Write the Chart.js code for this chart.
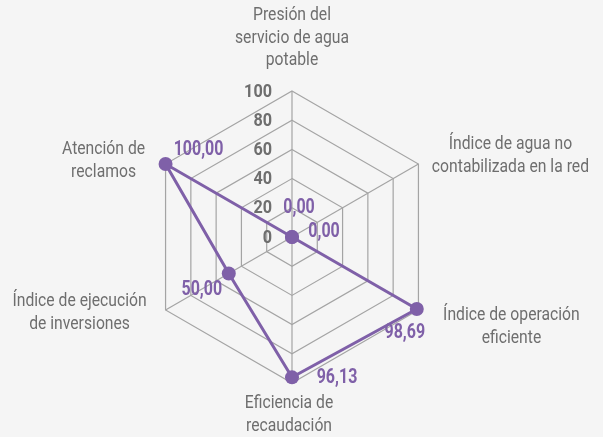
<!DOCTYPE html>
<html>
<head>
<meta charset="utf-8">
<style>
    body { margin: 0; background-color: #f5f5f5; }
    #wrap { position: relative; width: 603px; height: 437px; }
</style>
<script src="https://cdn.jsdelivr.net/npm/chart.js@4.4.1/dist/chart.umd.min.js"></script>
</head>
<body>
<div id="wrap"><canvas id="radar"></canvas></div>
<script type="text/javascript">

    // axes (multi-line labels) and values
    var axisLabels = [
        ["Presión del", "servicio de agua", "potable"],
        ["Índice de agua no", "contabilizada en la red"],
        ["Índice de operación", "eficiente"],
        ["Eficiencia de", "recaudación"],
        ["Índice de ejecución", "de inversiones"],
        ["Atención de", "reclamos"]
    ];
    var values = [0, 0, 98.69, 96.13, 50, 100];
    var tickValues = [0, 20, 40, 60, 80, 100];

    // where each text sits relative to its point (px)
    var valueLabelOffset = [[7, -29], [32, -5], [-12, 24], [45, 1], [-27, 16], [33, -14]];
    var axisLabelOffset = [[0, -53], [92, -8], [93, 17], [-3, 32], [-86, 3], [-62, -3]];

    var purple = '#7f60a8';
    var gray = '#6e6e6e';
    var gridCol = '#a4a4a4';

    function fmt(v) {
        return v.toFixed(2).replace('.', ',');
    }

    // the original uses a condensed face, squeeze Roboto a bit
    function narrowText(ctx, txt, x, y, f) {
        ctx.save();
        ctx.translate(x, y);
        ctx.scale(f, 1);
        ctx.fillText(txt, 0, 0);
        ctx.restore();
    }

    var textPlugin = {
        id: 'texts',
        afterDraw: function(chart) {
            var ctx = chart.ctx;
            var scale = chart.scales.r;
            ctx.save();

            // tick numbers, left of the vertical axis
            ctx.font = 'bold 18px Roboto, sans-serif';
            ctx.fillStyle = gray;
            ctx.textAlign = 'right';
            ctx.textBaseline = 'middle';
            for (let t = 0; t < tickValues.length; t++) {
                let d = scale.getDistanceFromCenterForValue(tickValues[t]);
                narrowText(ctx, String(tickValues[t]), scale.xCenter - 20, scale.yCenter - d + 1, 0.9);
            }

            // axis names
            ctx.font = '18.5px Roboto, sans-serif';
            ctx.textAlign = 'center';
            for (let i = 0; i < axisLabels.length; i++) {
                let p = scale.getPointPositionForValue(i, 100);
                let lines = axisLabels[i];
                let lh = 22.5;
                let cy = p.y + axisLabelOffset[i][1] - (lines.length - 1) * lh / 2;
                for (let k = 0; k < lines.length; k++) {
                    narrowText(ctx, lines[k], p.x + axisLabelOffset[i][0], cy + k * lh, 0.85);
                }
            }

            // value labels
            ctx.font = 'bold 20px Roboto, sans-serif';
            ctx.fillStyle = purple;
            let meta = chart.getDatasetMeta(0);
            for (let i = 0; i < values.length; i++) {
                let pt = meta.data[i];
                narrowText(ctx, fmt(values[i]), pt.x + valueLabelOffset[i][0], pt.y + valueLabelOffset[i][1], 0.8);
            }
            ctx.restore();
        }
    };

    new Chart(document.getElementById('radar'), {
        type: 'radar',
        data: {
            labels: axisLabels,
            datasets: [{
                label: 'Indicadores',
                data: values,
                fill: false,
                borderColor: purple,
                borderWidth: 3,
                pointRadius: 7,
                pointHoverRadius: 7,
                pointBackgroundColor: purple,
                pointBorderWidth: 0
            }]
        },
        options: {
            responsive: true,
            maintainAspectRatio: false,
            animation: false,
            layout: {
                padding: { top: 91, bottom: 54, left: 0, right: 19 }
            },
            plugins: {
                legend: { display: false },
                tooltip: { enabled: false }
            },
            scales: {
                r: {
                    min: 0,
                    max: 100,
                    ticks: { stepSize: 20, display: false },
                    pointLabels: { display: false },
                    grid: { color: gridCol, lineWidth: 1.2 },
                    angleLines: { color: gridCol, lineWidth: 1.2 }
                }
            }
        },
        plugins: [textPlugin]
    });

</script>
</body>
</html>
